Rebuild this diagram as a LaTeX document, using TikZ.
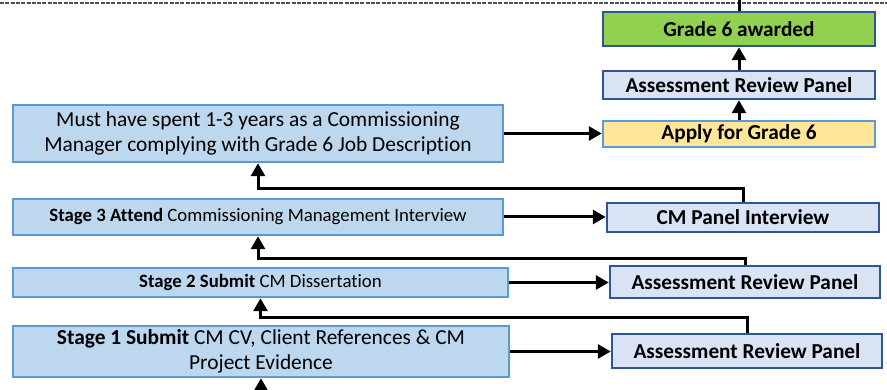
\documentclass[tikz,border=0pt]{standalone}
\usepackage{fontspec}
\setmainfont{Carlito}[Ligatures=NoCommon]
\usetikzlibrary{arrows.meta,calc}
\definecolor{lbfill}{HTML}{BDD7EE}
\definecolor{lbdraw}{HTML}{5B9BD5}
\definecolor{rbfill}{HTML}{DAE3F3}
\definecolor{rbdraw}{HTML}{2F5597}
\definecolor{grfill}{HTML}{92D050}
\definecolor{ylfill}{HTML}{FFE699}
\definecolor{dashgray}{HTML}{505050}
\tikzset{
  leftbox/.style={draw=lbdraw,fill=lbfill,line width=2.5pt,inner sep=0pt,align=center},
  rightbox/.style={draw=rbdraw,fill=rbfill,line width=2.5pt,inner sep=0pt,font=\fontsize{21.3}{24}\selectfont\bfseries},
  conn/.style={line width=3pt,black},
  arr/.style={conn,-{Triangle[length=13pt,width=14pt]}},
  bigtxt/.style={font=\fontsize{21.4}{24.5}\selectfont},
  smalltxt/.style={font=\fontsize{18.8}{22}\selectfont}
}
\begin{document}
\begin{tikzpicture}[x=1pt,y=-1pt]
\useasboundingbox (0,0) rectangle (887,390);
\fill[white] (0,0) rectangle (887,390);
\draw[dashgray,line width=1.3pt,dash pattern=on 4pt off 1.3pt] (0,3) -- (887,3);
% right column
\node[rightbox,fill=grfill,minimum width=272pt,minimum height=34pt] (g6) at (739,29) {Grade 6 awarded};
\node[rightbox,minimum width=272pt,minimum height=28pt] (arp3) at (739,85) {Assessment Review Panel};
\node[rightbox,draw=lbdraw,fill=ylfill,minimum width=272pt,minimum height=26pt] (apply) at (739,134) {Apply for Grade 6};
\node[rightbox,minimum width=272pt,minimum height=29pt] (cmp) at (743,217.5) {CM Panel Interview};
\node[rightbox,minimum width=270pt,minimum height=32pt] (arp2) at (745,282) {Assessment Review Panel};
\node[rightbox,minimum width=270pt,minimum height=34pt] (arp1) at (747,351) {Assessment Review Panel};
% left column
\node[leftbox,bigtxt,minimum width=490pt,minimum height=57pt] (must) at (258,133.5) {Must have spent 1-3 years as a Commissioning\\Manager complying with Grade 6 Job Description};
\node[leftbox,smalltxt,minimum width=490pt,minimum height=36pt] (s3) at (258,217) {\textbf{Stage 3 Attend} Commissioning Management Interview};
\node[leftbox,smalltxt,minimum width=495pt,minimum height=29pt] (s2) at (260.5,282.5) {\textbf{Stage 2 Submit} CM Dissertation};
\node[leftbox,bigtxt,minimum width=496pt,minimum height=51pt] (s1) at (261,351.5) {\textbf{Stage 1 Submit} CM CV, Client References \& CM\\Project Evidence};
\coordinate (top) at (739,0);
\coordinate (bot) at (261,390);
% connectors
\draw[conn] (g6.north) -- (top);
\draw[arr] (arp3.north) -- (g6.south);
\draw[arr] (apply.north) -- (arp3.south);
\draw[arr] (must.east) -- (must.east -| apply.west);
\draw[arr] (s3.east) -- (s3.east -| cmp.west);
\draw[arr] (s2.east) -- (s2.east -| arp2.west);
\draw[arr] (s1.east) -- (s1.east -| arp1.west);
\draw[arr] (cmp.north) |- ($(must.south)+(0,25)$) -- (must.south);
\draw[arr] (arp2.north) |- ($(s3.south)+(0,22)$) -- (s3.south);
\draw[arr] (arp1.north) |- ($(s2.south)+(0,19)$) -- (s2.south);
\draw[arr] (bot) -- (s1.south);
\end{tikzpicture}
\end{document}
